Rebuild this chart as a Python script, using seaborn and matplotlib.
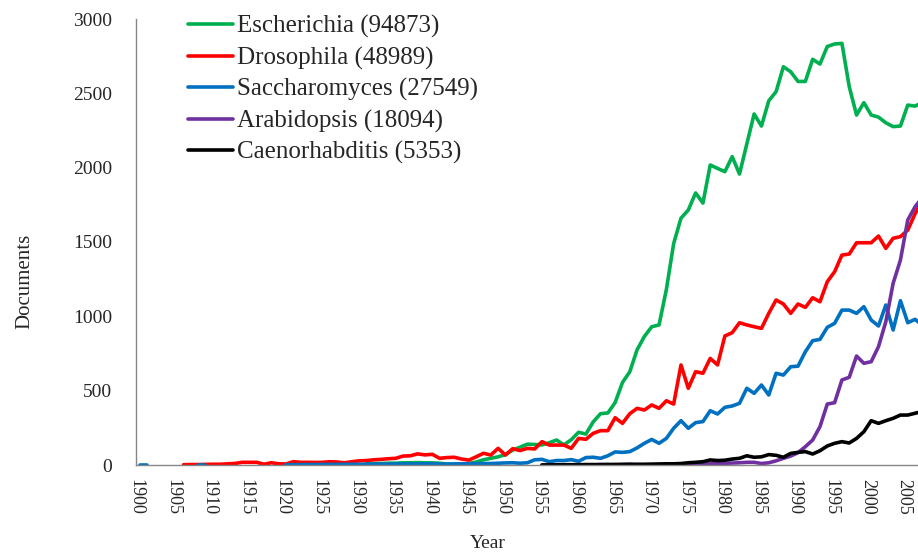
import pandas as pd
import numpy as np
import matplotlib
matplotlib.use("Agg")
import matplotlib.pyplot as plt
import seaborn as sns

# document counts per year

ecoli_years = list(range(1931, 2008))
ecoli_docs = [8, 10, 10, 12, 12, 15, 15, 16, 15, 14,
              12, 6, 4, 5, 10, 20, 35, 45, 55, 70,
              100, 120, 140, 138, 135, 150, 168, 135, 170, 220,
              208, 290, 345, 350, 420, 555, 627, 775, 865, 930,
              942, 1180, 1490, 1660, 1715, 1830, 1762, 2018, 1995, 1973,
              2074, 1957, 2160, 2361, 2280, 2450, 2511, 2679, 2645, 2580,
              2580, 2729, 2697, 2815, 2832, 2836, 2545, 2354, 2437, 2354,
              2340, 2302, 2276, 2280, 2421, 2414, 2440]

dros_years = list(range(1906, 2008))
dros_docs = [2, 3, 3, 4, 5, 5, 8, 10, 18, 18,
             18, 5, 15, 8, 7, 22, 18, 18, 17, 18,
             22, 20, 15, 22, 28, 30, 35, 38, 42, 45,
             60, 62, 75, 68, 72, 45, 50, 52, 40, 33,
             55, 79, 67, 112, 67, 110, 97, 112, 108, 157,
             134, 134, 134, 112, 179, 173, 213, 231, 231, 318,
             280, 345, 381, 370, 404, 381, 432, 410, 673, 516,
             628, 617, 717, 673, 868, 890, 957, 942, 930, 919,
             1020, 1110, 1083, 1020, 1083, 1060, 1125, 1098, 1233, 1300,
             1412, 1419, 1495, 1495, 1495, 1540, 1457, 1525, 1536, 1580,
             1690, 1780]

# yeast has two short early runs before the main series
yeast_years = [1900, 1901, 1908, 1909] + list(range(1920, 2008))
yeast_segment = [0, 0, 1, 1] + [2] * 88
yeast_docs = [0, 0, 0, 0,
              2, 2, 3, 3, 3, 4, 4, 4, 5, 5,
              5, 5, 6, 6, 6, 7, 7, 7, 7, 8,
              8, 6, 6, 7, 8, 8, 9, 10, 10, 12,
              14, 15, 12, 15, 35, 38, 22, 30, 30, 36,
              25, 50, 52, 45, 62, 88, 85, 90, 115, 146,
              172, 146, 179, 247, 298, 247, 285, 292, 365, 343,
              388, 397, 415, 516, 482, 538, 471, 617, 605, 661,
              665, 762, 836, 845, 926, 953, 1042, 1042, 1020, 1065,
              975, 935, 1076, 908, 1105, 957, 980, 940]

arab_years = list(range(1955, 2008))
arab_docs = [0, 0, 0, 0, 0, 0, 0, 0, 4, 3,
             0, 3, 4, 0, 0, 0, 0, 0, 0, 0,
             3, 4, 6, 8, 10, 12, 13, 15, 18, 18,
             10, 15, 28, 45, 60, 83, 123, 168, 258, 410,
             419, 572, 590, 733, 684, 695, 796, 964, 1222, 1379,
             1648, 1737, 1800]

worm_years = list(range(1955, 2008))
worm_docs = [0, 1, 1, 2, 2, 2, 3, 3, 2, 3,
             4, 4, 5, 5, 5, 6, 7, 8, 8, 10,
             15, 18, 22, 34, 30, 32, 40, 45, 62, 52,
             55, 70, 65, 52, 78, 85, 90, 74, 96, 128,
             146, 157, 148, 179, 224, 298, 280, 298, 314, 336,
             336, 348, 360]

organisms = ["Escherichia", "Drosophila", "Saccharomyces", "Arabidopsis", "Caenorhabditis"]
totals = [94873, 48989, 27549, 18094, 5353]
colors = ["#00B050", "#FF0000", "#0070C0", "#7030A0", "#000000"]

#%%
# long table for seaborn

frames = [
    pd.DataFrame({"Year": ecoli_years, "Documents": ecoli_docs, "seg": 0, "Organism": organisms[0]}),
    pd.DataFrame({"Year": dros_years, "Documents": dros_docs, "seg": 0, "Organism": organisms[1]}),
    pd.DataFrame({"Year": yeast_years, "Documents": yeast_docs, "seg": yeast_segment, "Organism": organisms[2]}),
    pd.DataFrame({"Year": arab_years, "Documents": arab_docs, "seg": 0, "Organism": organisms[3]}),
    pd.DataFrame({"Year": worm_years, "Documents": worm_docs, "seg": 0, "Organism": organisms[4]}),
]
docs = pd.concat(frames, ignore_index=True)

#%%

sns.set_style("white")
plt.rcParams["font.family"] = ["Liberation Serif", "DejaVu Serif"]

fig = plt.figure(figsize=(9.18, 5.56), dpi=100)
ax = fig.add_axes([136 / 918, 1 - 465 / 556, 1 - 136 / 918, (465 - 19) / 556])

sns.lineplot(data=docs, x="Year", y="Documents", hue="Organism", units="seg",
             estimator=None, hue_order=organisms, palette=colors,
             linewidth=2.6, ax=ax, legend=False)

ax.set_xlim(1899.5, 2006.4)
ax.set_ylim(0, 3000)

tick_years = np.arange(1900, 2010, 5)
ax.set_xticks(tick_years - 0.5)
ax.set_xticklabels([str(y) for y in tick_years], rotation=270, fontsize=13)
ax.set_yticks(np.arange(0, 3001, 500))
ax.set_yticklabels([str(v) for v in range(0, 3001, 500)], fontsize=14)

ax.tick_params(axis="x", direction="out", length=4, width=1, color="#868686", pad=6)
ax.tick_params(axis="y", direction="out", length=7, width=1, color="#868686", pad=10)

for side in ["top", "right"]:
    ax.spines[side].set_visible(False)
for side in ["left", "bottom"]:
    ax.spines[side].set_color("#868686")
    ax.spines[side].set_linewidth(1)

ax.set_ylabel("Documents", fontsize=15)
ax.yaxis.set_label_coords(-0.13, (465 - 281) / 446)
ax.set_xlabel("Year", fontsize=14)
ax.xaxis.set_label_coords((488 - 136) / 782, -0.157)

handles = [plt.Line2D([], [], color=c, linewidth=2.6) for c in colors]
labels = [f"{o} ({t})" for o, t in zip(organisms, totals)]
ax.legend(handles, labels, loc="upper left", bbox_to_anchor=(188 / 918, 1 - 15 / 556),
          bbox_transform=fig.transFigure, frameon=False, fontsize=18,
          handlelength=1.8, handletextpad=0.15, labelspacing=0.34,
          borderpad=0, borderaxespad=0)

fig.savefig("out.png", dpi=100)
